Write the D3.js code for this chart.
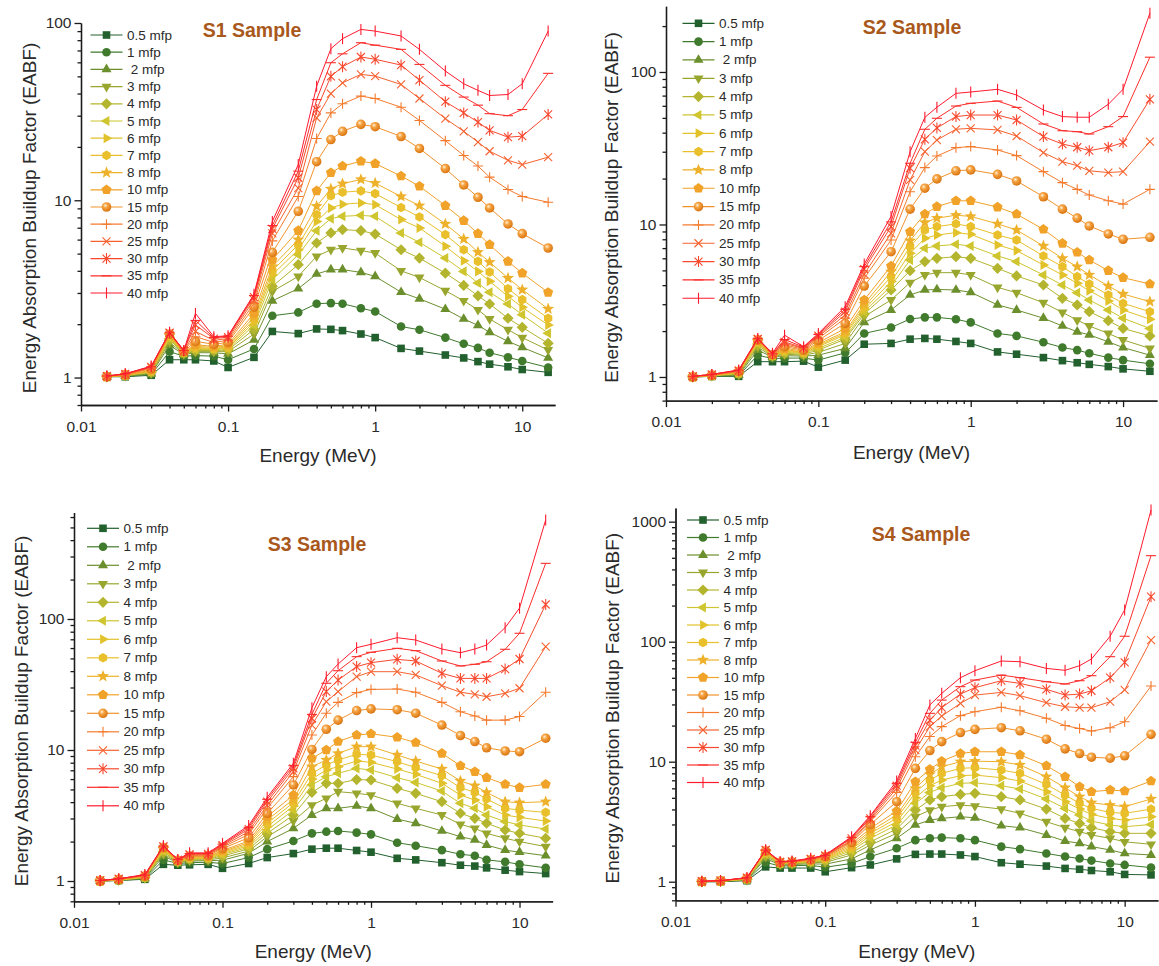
<!DOCTYPE html>
<html>
<head>
<meta charset="utf-8">
<script src="https://cdnjs.cloudflare.com/ajax/libs/d3/7.8.5/d3.min.js"></script>
<style>
  body { margin: 0; background: #fff; }
  svg { display: block; }
  text { font-family: "Liberation Sans", Arial, sans-serif; }
</style>
</head>
<body>
<svg id="chart" width="1159" height="966"></svg>
<script>
// Energy grid (MeV) shared by all four samples
const energies = [0.015, 0.02, 0.03, 0.04, 0.05, 0.06, 0.08, 0.1, 0.15, 0.2, 0.3, 0.4, 0.5, 0.6, 0.8, 1, 1.5, 2, 3, 4, 5, 6, 8, 10, 15];

// Penetration depths (legend order)
const depthLabels = ["0.5 mfp", "1 mfp", " 2 mfp", "3 mfp", "4 mfp", "5 mfp", "6 mfp", "7 mfp", "8 mfp",
  "10 mfp", "15 mfp", "20 mfp", "25 mfp", "30 mfp", "35 mfp", "40 mfp"];
const seriesColors = ["#22602e", "#3f7a2d", "#6b8f2d", "#98a62e", "#b4b52f", "#cec52f", "#e2c22b", "#e9c02c",
  "#edb12b", "#f0a229", "#f2922c", "#f47b2e", "#f6622f", "#f8492f", "#fb2e2b", "#ff1a2e"];
const markerTypes = ["square", "circle", "triUp", "triDown", "diamond", "triLeft", "triRight", "hexagon", "star",
  "pentagon", "sphere", "plus", "cross", "asterisk", "hbar", "vbar"];

const xMajor = [0.01, 0.1, 1, 10];
const titles = ["S1 Sample", "S2 Sample", "S3 Sample", "S4 Sample"];

// EABF values: one row per energy, 16 columns = the depths above
const s1 = [
  [1.01,1.01,1.01,1.01,1.01,1.01,1.01,1.01,1.01,1.01,1.01,1.02,1.02,1.02,1.02,1.02],
  [1.01,1.02,1.02,1.02,1.03,1.03,1.03,1.03,1.03,1.03,1.04,1.04,1.04,1.05,1.05,1.05],
  [1.03,1.04,1.05,1.06,1.07,1.08,1.08,1.09,1.10,1.10,1.12,1.13,1.14,1.15,1.15,1.16],
  [1.26,1.40,1.52,1.58,1.63,1.66,1.69,1.71,1.72,1.74,1.76,1.77,1.78,1.79,1.80,1.80],
  [1.26,1.32,1.35,1.36,1.37,1.38,1.38,1.39,1.39,1.40,1.40,1.41,1.41,1.42,1.42,1.42],
  [1.26,1.33,1.38,1.40,1.42,1.44,1.46,1.48,1.50,1.53,1.60,1.70,1.82,1.98,2.10,2.30],
  [1.24,1.32,1.38,1.40,1.42,1.44,1.45,1.46,1.48,1.50,1.54,1.58,1.62,1.66,1.68,1.70],
  [1.14,1.26,1.36,1.40,1.43,1.45,1.47,1.49,1.51,1.54,1.58,1.62,1.66,1.69,1.71,1.72],
  [1.30,1.45,1.63,1.76,1.87,1.97,2.05,2.12,2.20,2.30,2.50,2.62,2.74,2.84,2.90,2.95],
  [1.82,2.23,2.71,3.06,3.27,3.56,3.80,4.00,4.24,4.62,5.08,5.90,6.50,6.90,7.20,7.60],
  [1.77,2.33,3.17,3.72,4.33,4.93,5.26,5.62,6.00,6.74,8.67,10.5,11.7,13.4,14.6,15.9],
  [1.88,2.61,3.84,4.83,5.74,6.74,7.60,8.30,9.25,11.3,16.5,22.3,29.2,32.5,37.0,44.0],
  [1.87,2.63,4.06,5.26,6.54,7.88,9.05,10.6,11.6,14.3,22.0,31.1,40.0,50.0,59.7,71.6],
  [1.84,2.61,4.06,5.38,6.83,8.12,9.50,11.1,12.4,15.6,24.5,35.0,46.0,56.7,67.0,81.6],
  [1.76,2.46,3.92,5.20,6.74,8.22,9.66,11.3,13.1,16.6,26.8,38.7,51.3,64.3,77.4,92.0],
  [1.68,2.36,3.72,5.04,6.45,8.12,9.45,10.9,12.5,16.1,26.0,37.5,50.2,62.4,75.0,90.0],
  [1.46,1.94,3.03,4.00,5.26,6.54,7.78,9.10,10.5,13.7,22.9,33.5,45.0,57.9,71.0,84.5],
  [1.41,1.86,2.78,3.67,4.72,5.79,6.98,8.05,9.33,12.0,19.6,28.2,37.5,47.6,58.4,71.0],
  [1.34,1.68,2.43,3.09,3.88,4.72,5.50,6.40,7.35,9.33,15.1,21.7,28.9,36.0,44.5,53.6],
  [1.29,1.55,2.14,2.71,3.31,3.97,4.56,5.26,6.05,7.68,12.2,17.9,24.5,31.1,38.2,45.4],
  [1.23,1.47,1.97,2.41,2.89,3.41,3.97,4.52,5.10,6.48,10.4,15.6,21.3,27.6,34.4,41.7],
  [1.19,1.38,1.80,2.14,2.60,3.03,3.49,3.94,4.48,5.62,9.05,13.5,18.9,24.8,30.8,39.0],
  [1.15,1.30,1.60,1.86,2.16,2.60,2.87,3.17,3.64,4.52,7.35,11.5,16.8,22.7,30.0,39.5],
  [1.11,1.24,1.48,1.68,1.92,2.26,2.49,2.75,3.13,3.88,6.48,10.5,15.9,23.0,32.5,45.4],
  [1.07,1.14,1.29,1.43,1.56,1.78,1.98,2.16,2.44,3.02,5.38,9.75,17.5,30.5,52.0,90.0]
];

const s2 = [
  [1.00,1.00,1.00,1.00,1.00,1.00,1.00,1.00,1.00,1.00,1.00,1.00,1.01,1.01,1.01,1.01],
  [1.01,1.01,1.02,1.02,1.02,1.02,1.02,1.02,1.02,1.03,1.03,1.03,1.03,1.04,1.04,1.04],
  [1.01,1.02,1.03,1.04,1.05,1.06,1.06,1.07,1.07,1.08,1.09,1.09,1.10,1.10,1.11,1.11],
  [1.26,1.39,1.50,1.57,1.62,1.65,1.68,1.70,1.71,1.73,1.75,1.76,1.77,1.78,1.79,1.79],
  [1.26,1.32,1.35,1.36,1.37,1.38,1.38,1.39,1.39,1.40,1.40,1.41,1.41,1.42,1.42,1.43],
  [1.26,1.33,1.38,1.41,1.43,1.45,1.47,1.49,1.51,1.54,1.58,1.62,1.66,1.70,1.76,1.88],
  [1.27,1.33,1.37,1.39,1.41,1.43,1.44,1.45,1.46,1.48,1.50,1.52,1.54,1.55,1.57,1.58],
  [1.16,1.29,1.39,1.45,1.50,1.54,1.58,1.61,1.64,1.68,1.74,1.79,1.84,1.87,1.90,1.93],
  [1.29,1.44,1.54,1.66,1.77,1.82,1.89,1.93,1.98,2.08,2.25,2.43,2.55,2.68,2.78,2.89],
  [1.64,1.93,2.28,2.49,2.59,2.68,2.78,2.89,3.01,3.20,3.95,4.44,4.73,5.09,5.29,5.50],
  [1.66,2.11,2.75,3.20,3.72,3.95,4.22,4.55,4.91,5.34,6.63,7.91,8.75,9.68,10.4,11.3],
  [1.77,2.40,3.45,4.16,4.98,5.85,6.47,7.16,7.83,8.97,12.6,16.4,19.6,23.4,25.2,30.0],
  [1.79,2.46,3.72,4.67,5.71,6.98,8.12,9.20,10.3,11.7,17.3,23.6,30.0,36.2,42.1,50.4],
  [1.77,2.46,3.75,4.83,6.00,7.23,8.53,9.68,11.0,13.1,19.9,28.1,35.8,43.0,49.7,58.7],
  [1.71,2.39,3.72,4.83,6.15,7.41,8.84,10.1,11.5,14.3,22.5,31.9,42.1,51.0,59.8,72.4],
  [1.66,2.28,3.59,4.67,6.00,7.23,8.62,9.68,11.3,14.3,22.8,32.4,42.7,52.2,62.3,73.9],
  [1.46,1.93,2.97,3.87,5.16,6.22,7.34,8.53,10.1,13.0,21.3,30.8,41.7,52.2,64.5,77.0],
  [1.41,1.86,2.75,3.57,4.60,5.71,6.74,7.91,9.20,11.7,19.3,28.3,38.0,48.4,58.6,70.6],
  [1.34,1.69,2.43,3.07,4.01,4.67,5.43,6.22,7.23,9.30,15.2,22.2,29.6,37.7,45.6,56.3],
  [1.28,1.56,2.16,2.65,3.28,4.01,4.67,5.29,6.00,7.52,12.6,18.8,25.8,33.7,41.2,51.0],
  [1.24,1.50,1.98,2.36,2.97,3.57,4.11,4.55,5.29,6.57,11.0,17.0,24.3,32.1,40.6,50.5],
  [1.21,1.43,1.89,2.16,2.68,3.20,3.68,4.07,4.67,5.85,9.78,15.6,22.5,30.5,39.2,50.5],
  [1.17,1.34,1.70,1.93,2.34,2.75,3.15,3.45,3.95,4.98,8.67,14.3,21.9,32.1,43.8,61.4],
  [1.13,1.29,1.56,1.75,2.08,2.43,2.75,3.04,3.50,4.48,8.00,13.6,22.2,34.4,51.0,77.0],
  [1.09,1.22,1.39,1.54,1.86,2.08,2.39,2.68,3.12,4.07,8.24,17.0,34.9,66.2,125,243]
];

const s3 = [
  [1.00,1.00,1.00,1.00,1.00,1.00,1.00,1.00,1.00,1.00,1.00,1.01,1.01,1.01,1.01,1.01],
  [1.01,1.01,1.01,1.02,1.02,1.02,1.02,1.02,1.03,1.03,1.03,1.03,1.04,1.04,1.04,1.04],
  [1.03,1.04,1.05,1.06,1.06,1.07,1.07,1.08,1.08,1.09,1.09,1.10,1.10,1.11,1.11,1.12],
  [1.34,1.45,1.55,1.61,1.66,1.69,1.72,1.74,1.76,1.78,1.80,1.82,1.83,1.84,1.85,1.86],
  [1.32,1.36,1.38,1.39,1.40,1.41,1.42,1.42,1.43,1.43,1.44,1.44,1.45,1.45,1.46,1.46],
  [1.33,1.38,1.42,1.44,1.46,1.48,1.49,1.50,1.52,1.53,1.55,1.57,1.58,1.60,1.62,1.64],
  [1.34,1.39,1.43,1.45,1.47,1.49,1.50,1.51,1.53,1.54,1.56,1.58,1.59,1.61,1.62,1.64],
  [1.25,1.36,1.44,1.50,1.55,1.59,1.62,1.65,1.68,1.71,1.77,1.81,1.85,1.88,1.91,1.94],
  [1.36,1.51,1.63,1.69,1.76,1.81,1.86,1.91,1.96,2.02,2.14,2.27,2.38,2.49,2.57,2.65],
  [1.51,1.75,2.00,2.18,2.31,2.45,2.60,2.76,2.92,3.10,3.29,3.59,3.80,4.03,4.20,4.35],
  [1.62,2.02,2.52,2.87,3.19,3.48,3.74,3.96,4.20,4.53,5.41,6.26,6.83,7.24,7.59,7.91],
  [1.75,2.31,3.19,3.80,4.75,5.41,6.01,6.64,7.46,8.64,10.1,13.0,15.5,17.4,18.7,21.0],
  [1.78,2.38,3.59,4.28,5.57,6.26,7.04,7.68,8.39,10.0,14.4,19.1,23.4,27.9,32.3,36.3],
  [1.78,2.41,3.59,4.81,5.57,6.64,7.46,8.39,9.43,11.6,16.9,23.1,27.9,34.2,40.3,45.3],
  [1.71,2.34,3.74,4.67,5.95,7.24,8.24,9.27,10.6,13.0,20.0,27.4,36.3,43.3,51.6,60.4],
  [1.66,2.27,3.59,4.53,5.90,7.04,8.05,9.16,10.6,13.3,20.6,29.0,39.6,46.4,55.7,64.1],
  [1.49,1.96,2.97,3.92,5.10,6.15,7.16,8.15,9.16,12.5,20.3,29.2,39.6,49.2,59.7,72.0],
  [1.45,1.86,2.76,3.59,4.67,5.66,6.52,7.33,8.24,11.4,19.1,27.6,37.4,47.8,57.3,69.1],
  [1.38,1.72,2.41,3.19,4.03,4.86,5.57,6.37,7.16,9.43,15.5,23.1,31.0,38.5,47.8,59.0],
  [1.32,1.60,2.18,2.71,3.29,3.92,4.53,5.16,5.80,7.59,12.9,19.6,27.6,35.2,43.8,55.3],
  [1.30,1.56,2.06,2.52,3.01,3.59,4.15,4.75,5.34,6.83,11.6,18.2,26.6,35.2,45.1,59.0],
  [1.26,1.45,1.88,2.31,2.76,3.19,3.69,4.23,4.75,6.15,10.4,16.9,25.5,35.2,47.2,63.3],
  [1.21,1.40,1.72,2.12,2.45,2.84,3.19,3.59,4.03,5.47,9.83,16.9,27.1,41.5,58.7,85.9],
  [1.18,1.34,1.66,2.00,2.31,2.68,3.06,3.48,3.96,5.16,9.71,18.0,29.6,49.5,77.8,121],
  [1.14,1.26,1.56,1.83,2.12,2.49,2.87,3.34,4.03,5.47,12.3,27.6,61.5,129,266,570]
];

const s4 = [
  [1.00,1.00,1.00,1.00,1.00,1.00,1.00,1.00,1.00,1.00,1.00,1.00,1.00,1.01,1.01,1.01],
  [1.00,1.00,1.01,1.01,1.01,1.01,1.01,1.01,1.01,1.02,1.02,1.02,1.02,1.02,1.02,1.02],
  [1.02,1.03,1.04,1.04,1.05,1.05,1.05,1.06,1.06,1.06,1.07,1.07,1.07,1.08,1.08,1.08],
  [1.33,1.45,1.56,1.62,1.67,1.70,1.73,1.75,1.77,1.79,1.81,1.82,1.83,1.84,1.84,1.85],
  [1.30,1.35,1.38,1.40,1.41,1.42,1.43,1.43,1.44,1.44,1.45,1.45,1.46,1.46,1.47,1.47],
  [1.30,1.36,1.39,1.41,1.42,1.43,1.44,1.45,1.45,1.46,1.46,1.47,1.47,1.48,1.48,1.49],
  [1.30,1.37,1.41,1.44,1.46,1.47,1.48,1.49,1.50,1.51,1.52,1.53,1.54,1.55,1.56,1.57],
  [1.21,1.32,1.40,1.45,1.49,1.52,1.54,1.56,1.58,1.60,1.62,1.63,1.64,1.65,1.66,1.67],
  [1.31,1.42,1.55,1.67,1.74,1.81,1.87,1.93,1.99,2.06,2.13,2.18,2.22,2.30,2.33,2.37],
  [1.38,1.62,1.84,2.02,2.15,2.30,2.42,2.53,2.64,2.78,3.00,3.16,3.26,3.37,3.48,3.55],
  [1.55,1.90,2.30,2.53,2.75,2.97,3.16,3.37,3.59,3.88,4.64,5.55,5.99,6.31,6.60,6.90],
  [1.69,2.22,2.97,3.48,3.95,4.50,5.01,5.55,5.99,6.81,8.80,11.0,12.5,13.6,14.5,15.6],
  [1.70,2.30,3.26,3.95,4.80,5.55,6.31,7.03,7.84,8.63,12.4,16.2,19.6,22.2,25.3,29.7],
  [1.70,2.33,3.37,4.22,5.11,6.07,7.03,8.00,9.08,10.1,14.7,19.6,24.0,28.2,32.6,37.1],
  [1.67,2.30,3.48,4.35,5.34,6.60,7.64,8.80,10.0,11.7,17.5,24.2,30.6,36.6,42.2,50.1],
  [1.62,2.22,3.41,4.27,5.45,6.68,7.74,8.91,10.1,12.1,18.6,26.1,35.9,41.4,47.9,57.3],
  [1.44,1.96,2.93,4.03,5.11,6.31,7.36,8.52,10.0,12.1,19.2,28.4,37.8,47.3,52.7,69.0],
  [1.40,1.87,2.82,3.71,4.80,5.92,6.90,8.00,9.38,11.4,18.1,26.6,35.5,44.9,50.1,68.1],
  [1.35,1.72,2.45,3.16,4.03,4.89,5.62,6.47,7.50,9.26,15.4,23.0,31.0,40.1,46.4,59.9],
  [1.29,1.62,2.18,2.82,3.37,4.08,4.64,5.27,6.07,7.50,12.8,20.0,28.7,35.9,44.4,57.7],
  [1.27,1.56,2.09,2.61,3.06,3.59,4.03,4.50,5.11,6.19,11.7,18.9,28.2,36.6,47.3,63.1],
  [1.24,1.50,1.96,2.45,2.82,3.20,3.64,4.08,4.55,5.62,10.9,18.0,28.2,39.0,52.1,71.7],
  [1.21,1.42,1.84,2.30,2.61,2.97,3.37,3.78,4.35,5.81,10.7,19.2,31.6,50.1,75.0,111],
  [1.15,1.38,1.72,2.15,2.53,2.87,3.26,3.71,4.22,5.70,11.2,21.5,39.6,67.3,111,184],
  [1.14,1.31,1.67,2.05,2.53,3.00,3.48,4.03,4.89,6.90,16.9,42.7,103,237,521,1250]
];

// Panel geometry (pixels) - one entry per sample
const panels = [
  { rows: s1, xr: [81, 555],    yr: [405, 23],    yDom: [0.7, 100],  yMajor: [1, 10, 100],       titleAt: [252, 30],  leg: [106.5, 35, 17.2],   yLabX: 29,  xLabY: 455 },
  { rows: s2, xr: [666, 1157],  yr: [400.6, 6.2], yDom: [0.7, 270],  yMajor: [1, 10, 100],       titleAt: [912, 27],  leg: [698.5, 23.3, 18.33], yLabX: 611, xLabY: 452 },
  { rows: s3, xr: [74, 552.6],  yr: [901.3, 512.5], yDom: [0.7, 650], yMajor: [1, 10, 100],      titleAt: [317, 544], leg: [103, 528.3, 18.5],  yLabX: 21,  xLabY: 951 },
  { rows: s4, xr: [675.5, 1158], yr: [900.3, 508], yDom: [0.7, 1300], yMajor: [1, 10, 100, 1000], titleAt: [921, 534], leg: [703, 520, 17.5],    yLabX: 612, xLabY: 951 }
];

const svg = d3.select("#chart");
const FONT = "'Liberation Sans', Arial, sans-serif";

// shaded ball used for the 15 mfp marker
const grad = svg.append("defs").append("radialGradient")
  .attr("id", "ball").attr("cx", "38%").attr("cy", "35%").attr("r", "65%");
grad.append("stop").attr("offset", "0%").attr("stop-color", "#fff3dc");
grad.append("stop").attr("offset", "35%").attr("stop-color", "#f6a545");
grad.append("stop").attr("offset", "100%").attr("stop-color", "#d9740f");

function polyPath(n, r, rot) {
  const pts = d3.range(n).map(i => {
    const a = rot + i * 2 * Math.PI / n;
    return [(r * Math.sin(a)).toFixed(2), (-r * Math.cos(a)).toFixed(2)];
  });
  return "M" + pts.map(p => p.join(",")).join("L") + "Z";
}
function starPath(ro, ri) {
  const pts = d3.range(10).map(i => {
    const r = i % 2 ? ri : ro, a = i * Math.PI / 5;
    return [(r * Math.sin(a)).toFixed(2), (-r * Math.cos(a)).toFixed(2)];
  });
  return "M" + pts.map(p => p.join(",")).join("L") + "Z";
}

const filledPaths = {
  square: "M-3.8,-3.8H3.8V3.8H-3.8Z",
  triUp: polyPath(3, 5.8, 0),
  triDown: polyPath(3, 5.8, Math.PI),
  triLeft: polyPath(3, 5.8, -Math.PI / 2),
  triRight: polyPath(3, 5.8, Math.PI / 2),
  diamond: polyPath(4, 5.6, 0),
  hexagon: polyPath(6, 4.8, 0),
  pentagon: polyPath(5, 5.3, 0),
  star: starPath(6.3, 2.7)
};
const strokePaths = {
  plus: "M-5,0H5M0,-5V5",
  cross: "M-4,-4L4,4M-4,4L4,-4",
  asterisk: "M-4,-4L4,4M-4,4L4,-4M0,-5.5V5.5",
  hbar: "M-5,0H5",
  vbar: "M0,-5.5V5.5"
};

function drawMarker(g, type, x, y, color) {
  if (type === "circle") {
    g.append("circle").attr("cx", x).attr("cy", y).attr("r", 4.3).attr("fill", color);
  } else if (type === "sphere") {
    g.append("circle").attr("cx", x).attr("cy", y).attr("r", 4.8).attr("fill", "url(#ball)");
  } else if (filledPaths[type]) {
    g.append("path").attr("d", filledPaths[type]).attr("transform", `translate(${x},${y})`)
      .attr("fill", color);
  } else {
    g.append("path").attr("d", strokePaths[type]).attr("transform", `translate(${x},${y})`)
      .attr("fill", "none").attr("stroke", color).attr("stroke-width", 1.1);
  }
}

function minorTicks(lo, hi, majors) {
  const out = [];
  for (let e = -3; e <= 4; e++) {
    for (let k = 1; k <= 9; k++) {
      const v = +(k * Math.pow(10, e)).toPrecision(3);
      if (v >= lo && v <= hi && !majors.includes(v)) out.push(v);
    }
  }
  return out;
}

panels.forEach((p, pi) => {
  const x = d3.scaleLog().domain([0.01, 16.7]).range(p.xr);
  const y = d3.scaleLog().domain(p.yDom).range(p.yr);
  const g = svg.append("g");

  // axes: minor ticks first, then major ticks with labels
  const xAxisY = p.yr[0], yAxisX = p.xr[0];
  g.append("g").attr("transform", `translate(0,${xAxisY})`)
    .call(d3.axisBottom(x).tickValues(minorTicks(0.01, 16.7, xMajor)).tickSize(3.5).tickSizeOuter(0).tickFormat(""));
  const gx = g.append("g").attr("transform", `translate(0,${xAxisY})`)
    .call(d3.axisBottom(x).tickValues(xMajor).tickSize(6.5).tickSizeOuter(0).tickPadding(9).tickFormat(d => String(d)));
  g.append("g").attr("transform", `translate(${yAxisX},0)`)
    .call(d3.axisLeft(y).tickValues(minorTicks(p.yDom[0], p.yDom[1], p.yMajor)).tickSize(3.5).tickSizeOuter(0).tickFormat(""));
  const gy = g.append("g").attr("transform", `translate(${yAxisX},0)`)
    .call(d3.axisLeft(y).tickValues(p.yMajor).tickSize(6.5).tickSizeOuter(0).tickPadding(3).tickFormat(d => String(d)));

  g.selectAll(".domain, .tick line").attr("stroke", "#1a1a1a").attr("stroke-width", 1.3);
  [gx, gy].forEach(a => a.selectAll("text")
    .attr("font-family", FONT).attr("font-size", 15.5).attr("fill", "#2a2a2a"));

  // axis titles
  g.append("text")
    .attr("x", (p.xr[0] + p.xr[1]) / 2).attr("y", p.xLabY)
    .attr("text-anchor", "middle").attr("dominant-baseline", "central")
    .attr("font-size", 19).attr("fill", "#2a2a2a")
    .text("Energy (MeV)");
  g.append("text")
    .attr("transform", `translate(${p.yLabX},${(p.yr[0] + p.yr[1]) / 2 + 4}) rotate(-90)`)
    .attr("text-anchor", "middle").attr("dominant-baseline", "central")
    .attr("font-size", 19).attr("fill", "#2a2a2a")
    .text("Energy Absorption Buildup Factor (EABF)");

  // sample title
  g.append("text")
    .attr("x", p.titleAt[0]).attr("y", p.titleAt[1])
    .attr("text-anchor", "middle").attr("dominant-baseline", "central")
    .attr("font-size", 19.5).attr("font-weight", "bold").attr("fill", "#a9581c")
    .text(titles[pi]);

  // series: lines then markers, thinnest depth first
  const line = d3.line().x(d => x(d[0])).y(d => y(d[1]));
  depthLabels.forEach((lab, si) => {
    const pts = energies.map((e, ei) => [e, p.rows[ei][si]]);
    const sg = g.append("g");
    sg.append("path").attr("d", line(pts)).attr("fill", "none")
      .attr("stroke", seriesColors[si]).attr("stroke-width", 1);
    pts.forEach(d => drawMarker(sg, markerTypes[si], x(d[0]), y(d[1]), seriesColors[si]));
  });

  // legend
  const [lx, ly0, ldy] = p.leg;
  depthLabels.forEach((lab, si) => {
    const ly = ly0 + si * ldy;
    const lg = g.append("g");
    lg.append("line").attr("x1", lx - 16).attr("x2", lx + 16).attr("y1", ly).attr("y2", ly)
      .attr("stroke", seriesColors[si]).attr("stroke-width", 1.2);
    drawMarker(lg, markerTypes[si], lx, ly, seriesColors[si]);
    lg.append("text").attr("x", lx + 20.5).attr("y", ly)
      .attr("dominant-baseline", "central").attr("font-size", 13.5).attr("fill", "#2a2a2a")
      .attr("xml:space", "preserve").style("white-space", "pre")
      .text(lab);
  });
});
</script>
</body>
</html>
